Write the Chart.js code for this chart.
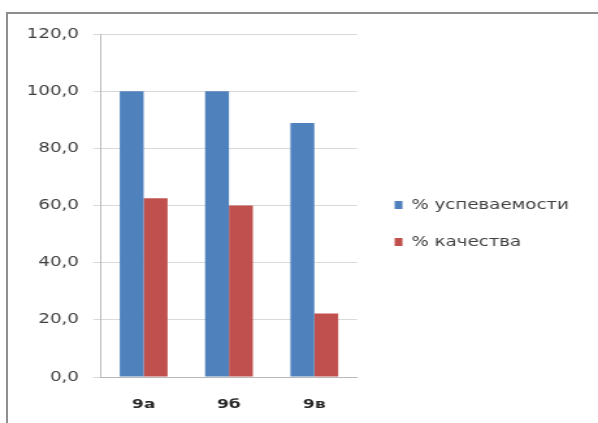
<!DOCTYPE html>
<html>
<head>
<meta charset="utf-8">
<script src="https://cdn.jsdelivr.net/npm/chart.js@4/dist/chart.umd.min.js"></script>
<style>
  body { margin: 0; background: #fff; width: 598px; height: 423px; overflow: hidden; position: relative; }
  #frame { position: absolute; left: 6px; top: 12px; width: 600px; height: 420px; border-top: 2px solid #8f8f8f; border-left: 2px solid #8f8f8f; }
  #wrap { position: absolute; left: 0; top: 0; transform: scaleX(1.3); transform-origin: 0 0; }
</style>
</head>
<body>
<div id="frame"></div>
<div id="wrap"><canvas id="myChart" width="460" height="423"></canvas></div>
<script>
var categories = ['9а', '9б', '9в'];
var uspevaemost = [100, 100, 88.9];
var kachestvo = [62.5, 60, 22.2];
var tickLabels = ['0,0', '20,0', '40,0', '60,0', '80,0', '100,0', '120,0'];

var data = {
    labels: categories,
    datasets: [
        {
            label: '% успеваемости',
            data: uspevaemost,
            backgroundColor: '#4F81BD'
        },
        {
            label: '% качества',
            data: kachestvo,
            backgroundColor: '#C0504D'
        }]
};

// legend sits a bit further from the plot than chart.js puts it
var shiftLegend = {
    id: 'shiftLegend',
    afterLayout: function(chart) {
        chart.legend.left += 6;
        chart.legend.right += 6;
    }
};

var ctx = document.getElementById('myChart');
var myBarChart = new Chart(ctx, {
    type: 'bar',
    data: data,
    plugins: [shiftLegend],
    options: {
        responsive: false,
        animation: false,
        devicePixelRatio: 1,
        categoryPercentage: 0.56,
        barPercentage: 1.0,
        layout: {
            padding: { left: 9.6, top: 34, right: 18.4, bottom: 10 }
        },
        plugins: {
            tooltip: { enabled: false },
            legend: {
                position: 'right',
                maxWidth: 220,
                labels: {
                    boxWidth: 6,
                    boxHeight: 8,
                    padding: 23,
                    color: '#404040',
                    font: { family: 'DejaVu Sans', size: 14 }
                }
            }
        },
        scales: {
            x: {
                grid: { display: false, drawTicks: false },
                border: { color: '#b8b8b8' },
                afterFit: function(scale) { scale.height = 36; },
                ticks: {
                    padding: 20,
                    color: '#262626',
                    font: { family: 'DejaVu Sans', size: 13, weight: 'bold' }
                }
            },
            y: {
                min: 0,
                max: 120,
                grid: { color: '#d9d9d9', tickLength: 6 },
                border: { color: '#b8b8b8' },
                ticks: {
                    stepSize: 20,
                    padding: 11,
                    color: '#404040',
                    font: { family: 'DejaVu Sans', size: 14 },
                    callback: function(value, index) { return tickLabels[index]; }
                }
            }
        }
    }
});
</script>
</body>
</html>
